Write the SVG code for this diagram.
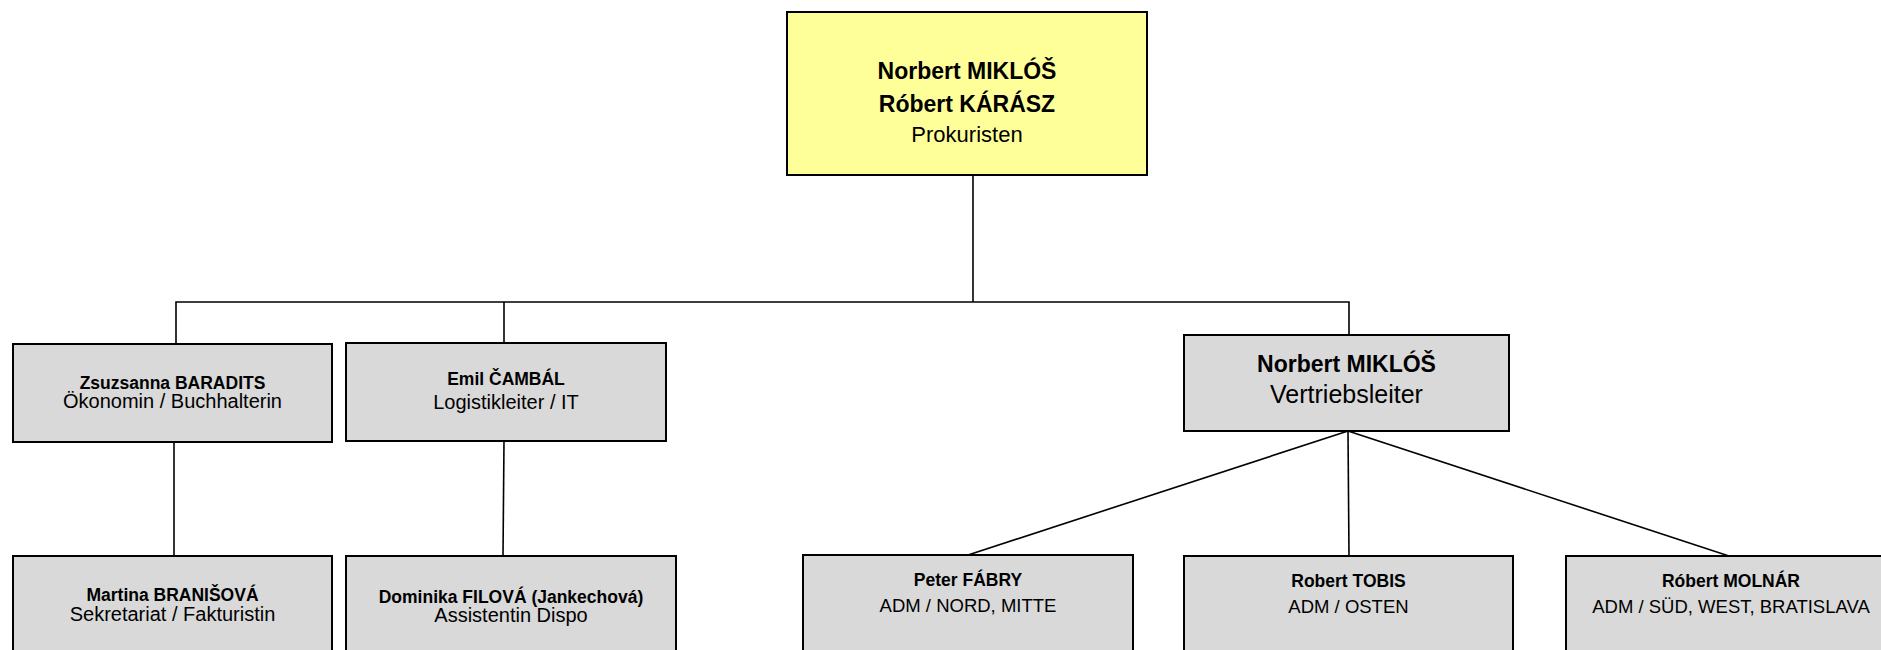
<svg xmlns="http://www.w3.org/2000/svg" width="1881" height="650" viewBox="0 0 1881 650">
<style>
.box{fill:#D9D9D9;stroke:#000;stroke-width:2}
.top{fill:#FFFF99;stroke:#000;stroke-width:2}
.ln{stroke:#000;stroke-width:1.6;fill:none}
text{font-family:"Liberation Sans",Arial,sans-serif;fill:#000;text-anchor:middle}
.b{font-weight:bold;font-size:17.5px}
.r{font-size:18.5px}
.rl{font-size:20px}
.bb{font-weight:bold;font-size:23px}
.rr{font-size:22px}
</style>
<rect width="1881" height="650" fill="#fff"/>
<g id="connectors">
<line class="ln" x1="973" y1="175" x2="973" y2="302"/>
<polyline class="ln" points="176,344 176,302 1349,302 1349,335"/>
<line class="ln" x1="504" y1="302" x2="504" y2="343"/>
<line class="ln" x1="174" y1="442" x2="174" y2="556"/>
<line class="ln" x1="504" y1="441" x2="503" y2="556"/>
<line class="ln" x1="1348" y1="431" x2="968" y2="555"/>
<line class="ln" x1="1348" y1="431" x2="1349" y2="556"/>
<line class="ln" x1="1348" y1="431" x2="1729" y2="556"/>
</g>
<g id="prokuristen">
<rect class="top" x="787" y="12" width="360" height="163"/>
<text class="bb" x="967" y="79">Norbert MIKLÓŠ</text>
<text class="bb" x="967" y="112">Róbert KÁRÁSZ</text>
<text class="rr" x="967" y="142">Prokuristen</text>
</g>
<g id="baradits">
<rect class="box" x="13" y="344" width="319" height="98"/>
<text class="b" x="172.5" y="389">Zsuzsanna BARADITS</text>
<text class="rl" x="172.5" y="408">Ökonomin / Buchhalterin</text>
</g>
<g id="cambal">
<rect class="box" x="346" y="343" width="320" height="98"/>
<text class="b" x="506" y="385">Emil ČAMBÁL</text>
<text class="rl" x="506" y="409">Logistikleiter / IT</text>
</g>
<g id="miklos">
<rect class="box" x="1184" y="335" width="325" height="96"/>
<text class="bb" x="1346.5" y="372">Norbert MIKLÓŠ</text>
<text style="font-size:25px" x="1346.5" y="403">Vertriebsleiter</text>
</g>
<g id="branisova">
<rect class="box" x="13" y="556" width="319" height="98"/>
<text class="b" x="172.5" y="601">Martina BRANIŠOVÁ</text>
<text class="rl" x="172.5" y="621">Sekretariat / Fakturistin</text>
</g>
<g id="filova">
<rect class="box" x="346" y="556" width="330" height="98"/>
<text class="b" x="511" y="603">Dominika FILOVÁ (Jankechová)</text>
<text class="rl" x="511" y="622">Assistentin Dispo</text>
</g>
<g id="fabry">
<rect class="box" x="803" y="555" width="330" height="98"/>
<text class="b" x="968" y="586">Peter FÁBRY</text>
<text class="r" x="968" y="612">ADM / NORD, MITTE</text>
</g>
<g id="tobis">
<rect class="box" x="1184" y="556" width="329" height="98"/>
<text class="b" x="1348.5" y="587">Robert TOBIS</text>
<text class="r" x="1348.5" y="613">ADM / OSTEN</text>
</g>
<g id="molnar">
<rect class="box" x="1566" y="556" width="330" height="98"/>
<text class="b" x="1731" y="587">Róbert MOLNÁR</text>
<text class="r" x="1731" y="613">ADM / SÜD, WEST, BRATISLAVA</text>
</g>
</svg>
